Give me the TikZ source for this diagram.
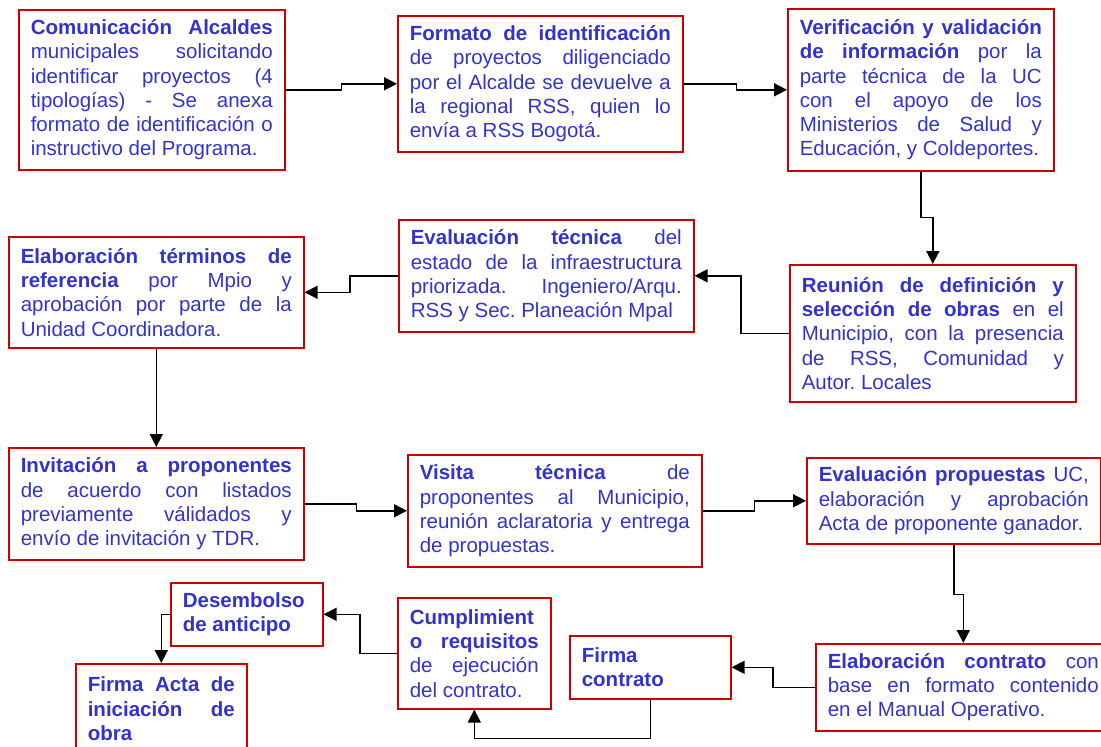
\documentclass[tikz,border=0pt]{standalone}
\usepackage{fontspec}
\setmainfont{Liberation Sans}
\usetikzlibrary{arrows.meta}
\definecolor{boxred}{RGB}{204,0,0}
\definecolor{txtblue}{RGB}{51,51,204}
\setlength{\parindent}{0pt}
\hyphenpenalty=10000
\exhyphenpenalty=10000
\tolerance=10000
\frenchspacing

\begin{document}
\begin{tikzpicture}[x=1pt,y=-1pt,
    stepbox/.style={draw=boxred,line width=1.6pt,text=txtblue,anchor=north west,
      align=justify,inner xsep=12pt,inner ysep=0pt,
      font={\fontsize{20.5pt}{24.3pt}\selectfont}},
    flow/.style={line width=1.6pt,-{Triangle[length=13pt,width=13pt]}}]
  \useasboundingbox (0,0) rectangle (1101,747);

  % first row
  \node[stepbox,text width=242pt,minimum height=160pt] (com) at (18,9)
    {\textbf{Comunicación Alcaldes}\linebreak municipales solicitando\linebreak identificar proyectos (4\linebreak tipologías) - Se anexa\linebreak formato de identificación o\linebreak instructivo del Programa.};
  \node[stepbox,text width=261pt,minimum height=136pt] (fmt) at (397,15)
    {\textbf{Formato de identificación}\linebreak de proyectos diligenciado\linebreak por el Alcalde se devuelve a\linebreak la regional RSS, quien lo\linebreak envía a RSS Bogotá.};
  \node[stepbox,text width=242pt,minimum height=162pt] (ver) at (787,8)
    {\textbf{Verificación y validación}\linebreak\textbf{de información} por la\linebreak parte técnica de la UC\linebreak con el apoyo de los\linebreak Ministerios de Salud y\linebreak Educación, y Coldeportes.};

  % second row
  \node[stepbox,text width=262pt,minimum height=137pt] (reu) at (789,264)
    {\textbf{Reunión de definición y}\linebreak\textbf{selección de obras} en el\linebreak Municipio, con la presencia\linebreak de RSS, Comunidad y\linebreak Autor. Locales};
  \node[stepbox,text width=271pt,minimum height=112pt] (evt) at (398,219)
    {\textbf{Evaluación técnica} del\linebreak estado de la infraestructura\linebreak priorizada. Ingeniero/Arqu.\linebreak RSS y Sec. Planeación Mpal};
  \node[stepbox,text width=271pt,minimum height=111pt] (ter) at (8,236)
    {\textbf{Elaboración términos de}\linebreak\textbf{referencia} por Mpio y\linebreak aprobación por parte de la\linebreak Unidad Coordinadora.};

  % third row
  \node[stepbox,text width=271pt,minimum height=112pt] (inv) at (8,447)
    {\textbf{Invitación a proponentes}\linebreak de acuerdo con listados\linebreak previamente válidados y\linebreak envío de invitación y TDR.};
  \node[stepbox,text width=270pt,minimum height=112pt] (vis) at (407,454)
    {\textbf{Visita técnica} de\linebreak proponentes al Municipio,\linebreak reunión aclaratoria y entrega\linebreak de propuestas.};
  \node[stepbox,text width=270pt,minimum height=86pt] (evp) at (806,457)
    {\textbf{Evaluación propuestas} UC,\linebreak elaboración y aprobación\linebreak Acta de proponente ganador.};

  % last row
  \node[stepbox,text width=271pt,minimum height=87pt] (con) at (815,643)
    {\textbf{Elaboración contrato} con\linebreak base en formato contenido\linebreak en el Manual Operativo.};
  \node[stepbox,text width=137pt,minimum height=63pt] (fir) at (569,635)
    {\textbf{Firma}\\\textbf{contrato}};
  \node[stepbox,text width=129pt,minimum height=111pt] (cum) at (397,597)
    {\textbf{Cumplimient}\linebreak\textbf{o requisitos}\linebreak de ejecución\linebreak del contrato.};
  \node[stepbox,text width=128pt,minimum height=63pt] (des) at (170,582)
    {\textbf{Desembolso}\\\textbf{de anticipo}};
  \node[stepbox,text width=147pt,minimum height=90pt] (act) at (75,663)
    {\textbf{Firma Acta de}\linebreak\textbf{iniciación de}\linebreak\textbf{obra}};

  % connectors
  \draw[flow] (com.east) -- ++(56,0) |- (fmt.west);
  \draw[flow] (fmt.east) -- ++(53,0) |- (ver.west);
  \draw[flow] (ver.south) -- ++(0,46) -| (reu.north);
  \draw[flow] (reu.west) -- ++(-48,0) |- (evt.east);
  \draw[flow] (evt.west) -- ++(-48,0) |- (ter.east);
  \draw[flow] (ter) -- (inv);
  \draw[flow] (inv.east) -- ++(52,0) |- (vis.west);
  \draw[flow] (vis.east) -- ++(52,0) |- (evp.west);
  \draw[flow] (evp.south) -- ++(0,50) -| (con.north);
  \draw[flow] (con.west) -- ++(-42,0) |- (fir.east);
  \draw[flow] (fir.south) -- ++(0,39) -| (cum.south);
  \draw[flow] (cum.west) -- ++(-37,0) |- (des.east);
  \draw[flow] (des.west) -| (act.north);
\end{tikzpicture}
\end{document}
